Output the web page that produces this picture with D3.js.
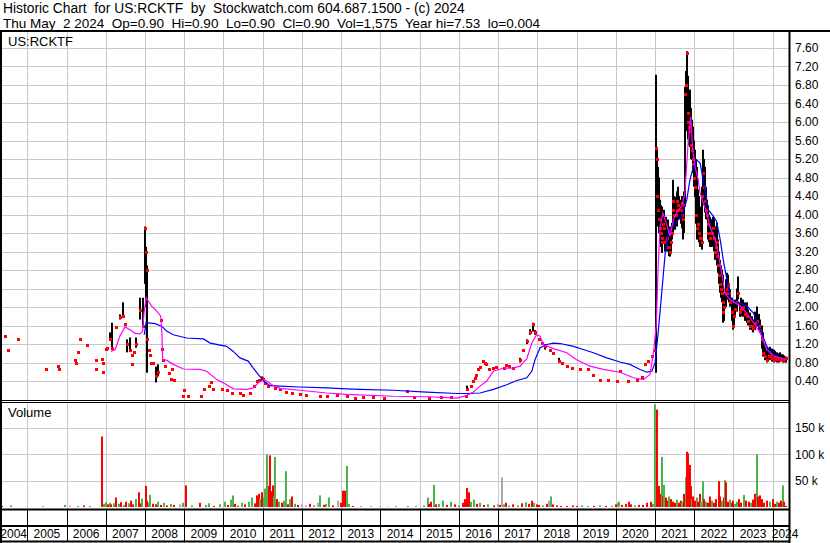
<!DOCTYPE html>
<html>
<head>
<meta charset="utf-8">
<script src="https://cdn.jsdelivr.net/npm/d3@7"></script>
<style>
body{margin:0;background:#fff;}
svg text{font-family:"Liberation Sans", Arial, sans-serif; white-space:pre; fill:#000;}
</style>
</head>
<body>
<div class="c-svg"></div>
<script>
//DATA
//-------------------------------------------------------------------------

const symbol = "US:RCKTF";
const titleLine = "Historic Chart  for US:RCKTF  by  Stockwatch.com 604.687.1500 - (c) 2024";
const quoteLine = "Thu May  2 2024  Op=0.90  Hi=0.90  Lo=0.90  Cl=0.90  Vol=1,575  Year hi=7.53  lo=0.004";

const years = [2004,2005,2006,2007,2008,2009,2010,2011,2012,2013,2014,2015,2016,2017,2018,2019,2020,2021,2022,2023,2024];
const priceTicks = [0.40,0.80,1.20,1.60,2.00,2.40,2.80,3.20,3.60,4.00,4.40,4.80,5.20,5.60,6.00,6.40,6.80,7.20,7.60];
const volumeTicks = [50,100,150];

//price bars : [year, high, low, close]
const bars = [
	[2004.43,1.38,1.38,1.38],[2004.51,1.08,1.08,1.08],[2004.76,1.30,1.30,1.30],
	[2005.47,0.67,0.67,0.67],[2005.79,0.73,0.73,0.73],[2005.81,0.67,0.67,0.67],
	[2006.21,0.85,0.85,0.85],[2006.23,0.78,0.78,0.78],[2006.30,1.02,1.02,1.02],[2006.34,1.30,1.30,1.30],
	[2006.51,1.17,1.17,1.17],[2006.75,0.85,0.85,0.85],[2006.76,0.65,0.65,0.65],[2006.91,0.88,0.88,0.88],
	[2006.92,0.78,0.78,0.78],[2006.93,0.60,0.60,0.60],[2007.00,1.10,1.10,1.10],[2007.02,1.12,1.12,1.12],
	[2007.10,1.45,1.30,1.30],[2007.17,1.66,1.10,1.12],[2007.25,1.56,1.56,1.56],[2007.35,1.84,1.73,1.79],
	[2007.44,2.10,1.79,1.81],[2007.50,1.64,1.64,1.64],[2007.55,1.30,1.02,1.19],[2007.62,1.34,1.04,1.08],
	[2007.66,0.97,0.97,0.97],[2007.68,0.76,0.76,0.76],[2007.72,1.02,1.02,1.02],[2007.78,1.34,1.12,1.20],
	[2007.87,2.20,1.73,1.94],[2007.94,2.20,1.55,1.58],[2008.01,3.74,2.50,3.70],[2008.03,3.30,2.00,3.18],
	[2008.04,2.90,0.95,2.79],[2008.06,1.50,0.58,1.30],[2008.11,1.06,1.06,1.06],[2008.13,0.97,0.97,0.97],
	[2008.15,0.80,0.80,0.80],[2008.20,0.80,0.80,0.80],[2008.27,0.71,0.37,0.50],[2008.34,0.76,0.50,0.60],
	[2008.40,1.71,1.71,1.71],[2008.43,1.10,1.10,1.10],[2008.47,0.86,0.86,0.86],[2008.52,0.73,0.73,0.73],
	[2008.60,0.58,0.58,0.58],[2008.66,0.45,0.45,0.45],[2008.70,0.65,0.65,0.65],[2008.75,0.43,0.43,0.43],
	[2008.96,0.07,0.07,0.07],[2009.00,0.20,0.20,0.20],[2009.10,0.07,0.07,0.07],[2009.42,0.07,0.07,0.07],
	[2009.50,0.22,0.22,0.22],[2009.64,0.30,0.30,0.30],[2009.68,0.37,0.37,0.37],[2009.74,0.22,0.22,0.22],
	[2009.95,0.22,0.22,0.22],[2010.08,0.20,0.20,0.20],[2010.21,0.14,0.14,0.14],[2010.42,0.14,0.14,0.14],
	[2010.50,0.09,0.09,0.09],[2010.67,0.15,0.15,0.15],[2010.79,0.29,0.29,0.29],[2010.86,0.40,0.40,0.40],
	[2010.90,0.43,0.43,0.43],[2010.98,0.50,0.40,0.47],[2011.02,0.45,0.45,0.45],[2011.06,0.36,0.36,0.36],
	[2011.14,0.29,0.29,0.29],[2011.31,0.25,0.25,0.25],[2011.45,0.22,0.22,0.22],[2011.60,0.17,0.17,0.17],
	[2011.75,0.13,0.13,0.13],[2011.95,0.11,0.11,0.11],[2012.10,0.10,0.10,0.10],[2012.45,0.08,0.08,0.08],
	[2012.65,0.07,0.07,0.07],[2012.90,0.09,0.09,0.09],[2013.14,0.08,0.08,0.08],[2013.35,0.04,0.04,0.04],
	[2013.55,0.06,0.06,0.06],[2013.80,0.05,0.05,0.05],[2014.10,0.04,0.04,0.04],[2014.67,0.18,0.18,0.18],
	[2014.85,0.05,0.05,0.05],[2015.25,0.04,0.04,0.04],[2015.55,0.05,0.05,0.05],[2015.80,0.05,0.05,0.05],
	[2016.18,0.07,0.07,0.07],[2016.22,0.30,0.20,0.22],[2016.31,0.30,0.30,0.30],[2016.35,0.40,0.40,0.40],
	[2016.40,0.47,0.47,0.47],[2016.44,0.52,0.52,0.52],[2016.48,0.65,0.65,0.65],[2016.55,0.70,0.70,0.70],
	[2016.62,0.83,0.83,0.83],[2016.66,0.80,0.80,0.80],[2016.70,0.76,0.76,0.76],[2016.78,0.65,0.65,0.65],
	[2016.86,0.68,0.68,0.68],[2016.95,0.70,0.70,0.70],[2017.14,0.68,0.68,0.68],[2017.20,0.75,0.75,0.75],
	[2017.27,0.72,0.72,0.72],[2017.39,0.68,0.68,0.68],[2017.56,0.90,0.80,0.86],[2017.64,1.08,1.08,1.08],
	[2017.73,1.30,1.20,1.26],[2017.81,1.52,1.40,1.47],[2017.88,1.66,1.47,1.64],[2017.94,1.50,1.40,1.47],
	[2018.03,1.30,1.30,1.30],[2018.11,1.22,1.22,1.22],[2018.20,1.20,1.08,1.15],[2018.32,1.08,1.08,1.08],
	[2018.41,1.01,1.01,1.01],[2018.54,0.90,0.80,0.83],[2018.62,0.79,0.79,0.79],[2018.75,0.72,0.72,0.72],
	[2018.88,0.68,0.68,0.68],[2019.10,0.65,0.65,0.65],[2019.28,0.66,0.66,0.66],[2019.43,0.54,0.54,0.54],
	[2019.60,0.43,0.43,0.43],[2019.81,0.42,0.42,0.42],[2020.02,0.40,0.40,0.40],[2020.11,0.61,0.61,0.61],
	[2020.32,0.40,0.40,0.40],[2020.53,0.43,0.43,0.43],[2020.66,0.49,0.49,0.49],[2020.75,0.76,0.76,0.76],
	[2020.83,0.83,0.83,0.83],[2020.92,0.94,0.94,0.94],[2021.00,1.08,1.08,1.08],
	[2021.02,7.02,0.58,5.44],[2021.04,5.40,4.32,5.20],[2021.06,5.10,3.90,4.40],[2021.08,5.03,3.74,4.10],
	[2021.10,4.80,3.60,3.90],[2021.13,4.32,3.46,3.70],[2021.15,4.20,3.30,3.60],[2021.17,4.17,3.17,3.40],
	[2021.19,4.00,3.20,3.50],[2021.21,4.04,3.52,3.80],[2021.24,4.10,3.40,3.70],[2021.26,3.90,3.20,3.40],
	[2021.28,3.95,3.30,3.45],[2021.31,3.80,3.20,3.50],[2021.34,3.89,3.24,3.30],[2021.36,3.70,3.10,3.30],
	[2021.38,3.74,3.09,3.20],[2021.41,3.70,3.20,3.40],[2021.43,3.82,3.46,3.60],[2021.45,4.50,3.60,4.10],
	[2021.47,4.75,3.74,4.30],[2021.49,4.40,3.70,4.00],[2021.51,4.38,3.67,4.00],[2021.53,4.30,3.80,4.00],
	[2021.55,4.25,3.74,4.10],[2021.57,4.50,3.90,4.30],[2021.59,4.60,4.04,4.20],[2021.62,4.40,3.90,4.10],
	[2021.64,4.32,3.95,4.10],[2021.66,4.30,3.80,4.10],[2021.68,4.38,3.89,4.25],[2021.70,4.40,3.70,4.00],
	[2021.72,4.25,3.46,3.90],[2021.74,4.50,3.60,4.20],[2021.77,6.76,4.17,6.60],[2021.79,7.10,5.80,6.80],
	[2021.81,7.53,6.33,7.50],[2021.83,7.00,5.90,6.20],[2021.85,6.85,5.62,6.00],[2021.87,6.50,5.50,5.90],
	[2021.89,6.70,5.46,5.80],[2021.91,6.30,5.20,5.50],[2021.94,6.05,5.18,5.40],[2021.96,5.90,5.00,5.20],
	[2021.98,5.77,4.90,5.10],[2022.00,5.60,4.60,4.80],[2022.02,5.40,4.38,4.60],[2022.04,5.20,3.80,4.00],
	[2022.06,5.03,3.46,3.70],[2022.08,4.60,3.50,3.70],[2022.10,4.54,3.46,3.80],[2022.12,4.40,3.40,3.60],
	[2022.15,4.17,3.30,3.50],[2022.17,4.00,3.30,3.50],[2022.19,3.89,3.24,3.40],[2022.21,4.60,3.50,4.40],
	[2022.23,5.40,4.38,4.90],[2022.25,5.20,4.20,4.60],[2022.27,5.03,4.04,4.30],[2022.29,4.60,3.90,4.10],
	[2022.32,4.32,3.89,4.00],[2022.34,4.20,3.60,3.80],[2022.36,4.17,3.46,3.60],[2022.38,4.00,3.40,3.60],
	[2022.40,3.95,3.30,3.50],[2022.44,3.90,3.30,3.60],[2022.49,3.95,3.46,3.70],[2022.51,3.90,3.20,3.50],
	[2022.53,3.74,3.02,3.20],[2022.55,3.70,3.10,3.30],[2022.57,3.82,3.17,3.40],[2022.59,3.60,2.90,3.10],
	[2022.61,3.46,2.74,2.90],[2022.63,3.20,2.50,2.70],[2022.66,3.02,2.31,2.50],[2022.68,2.90,2.20,2.40],
	[2022.70,2.81,2.10,2.30],[2022.72,2.70,1.80,2.10],[2022.74,2.59,1.66,1.90],[2022.77,2.30,1.70,2.00],
	[2022.80,2.60,2.00,2.30],[2022.83,2.74,2.16,2.40],[2022.85,2.70,2.20,2.50],[2022.87,2.59,2.31,2.45],
	[2022.89,2.50,2.10,2.30],[2022.91,2.38,2.01,2.10],[2022.95,2.20,1.70,1.90],[2023.00,2.01,1.51,1.60],
	[2023.02,2.10,1.60,1.80],[2023.04,2.16,1.79,1.95],[2023.08,2.40,1.90,2.10],[2023.12,2.66,2.16,2.30],
	[2023.16,2.10,1.79,1.90],[2023.20,2.20,1.80,1.95],[2023.25,2.16,1.79,2.00],[2023.30,2.10,1.70,1.85],
	[2023.34,2.10,1.66,1.80],[2023.38,1.95,1.60,1.70],[2023.42,1.88,1.51,1.60],[2023.46,1.80,1.50,1.60],
	[2023.51,1.73,1.45,1.55],[2023.55,1.90,1.50,1.65],[2023.59,2.01,1.58,1.70],[2023.64,1.85,1.50,1.60],
	[2023.68,1.73,1.45,1.50],[2023.72,1.60,1.10,1.30],[2023.76,1.45,0.93,1.00],[2023.80,1.20,0.85,0.95],
	[2023.85,1.14,0.80,0.85],[2023.90,1.10,0.85,0.95],[2023.94,1.14,0.86,0.95],[2023.98,1.10,0.82,0.90],
	[2024.02,1.08,0.80,0.85],[2024.06,1.05,0.82,0.90],[2024.11,1.02,0.80,0.88],[2024.15,1.00,0.80,0.88],
	[2024.19,1.02,0.82,0.90],[2024.23,0.98,0.82,0.88],[2024.27,0.97,0.80,0.85],[2024.30,0.95,0.80,0.88],
	[2024.33,0.93,0.80,0.90]
];

//short moving average (magenta) : [year, value]
const maShort = [
	[2007.13,1.04],[2007.24,1.08],[2007.36,1.37],[2007.49,1.57],[2007.62,1.51],[2007.75,1.43],[2007.87,1.42],
	[2007.94,1.48],[2007.97,1.84],[2008.03,2.20],[2008.17,2.02],[2008.30,1.91],[2008.40,1.80],[2008.43,1.45],
	[2008.45,0.86],[2008.55,0.85],[2008.72,0.76],[2008.98,0.66],[2009.40,0.65],[2009.57,0.61],[2009.83,0.43],
	[2010.00,0.36],[2010.25,0.23],[2010.59,0.22],[2010.76,0.25],[2010.89,0.36],[2011.02,0.43],[2011.10,0.40],
	[2011.27,0.30],[2011.44,0.24],[2011.95,0.20],[2012.63,0.14],[2013.14,0.11],[2014.33,0.07],[2015.18,0.06],
	[2015.95,0.03],[2016.20,0.09],[2016.37,0.16],[2016.54,0.29],[2016.71,0.40],[2016.88,0.61],[2017.14,0.68],
	[2017.39,0.68],[2017.56,0.72],[2017.73,0.88],[2017.86,1.22],[2017.98,1.40],[2018.07,1.37],[2018.15,1.19],
	[2018.41,1.10],[2018.75,1.01],[2019.00,0.86],[2019.34,0.72],[2019.68,0.65],[2020.11,0.59],[2020.45,0.47],
	[2020.70,0.43],[2020.87,0.54],[2020.96,1.01],[2021.03,1.58],[2021.08,2.88],[2021.13,3.74],[2021.20,4.03],
	[2021.30,3.78],[2021.38,3.53],[2021.47,3.89],[2021.59,4.10],[2021.68,4.17],[2021.76,4.46],[2021.85,5.62],
	[2021.91,6.12],[2021.96,5.40],[2022.02,5.04],[2022.10,4.75],[2022.15,4.46],[2022.23,4.25],[2022.32,4.03],
	[2022.40,3.74],[2022.53,3.46],[2022.61,3.17],[2022.70,2.74],[2022.78,2.30],[2022.91,2.16],[2023.04,2.09],
	[2023.17,2.02],[2023.34,1.87],[2023.51,1.66],[2023.68,1.44],[2023.85,1.08],[2024.02,0.94],[2024.19,0.90],
	[2024.33,0.86]
];

//long moving average (blue) : [year, value]
const maLong = [
	[2007.98,1.40],[2008.03,1.66],[2008.26,1.64],[2008.43,1.58],[2008.55,1.48],[2008.72,1.40],[2009.06,1.33],
	[2009.49,1.31],[2009.66,1.22],[2010.08,1.15],[2010.25,1.04],[2010.42,0.90],[2010.63,0.83],[2010.76,0.68],
	[2010.89,0.54],[2011.02,0.40],[2011.19,0.30],[2011.44,0.29],[2011.95,0.27],[2012.63,0.25],[2013.14,0.23],
	[2013.48,0.22],[2014.33,0.20],[2015.18,0.16],[2015.95,0.13],[2016.20,0.13],[2016.54,0.14],[2016.88,0.22],
	[2017.22,0.32],[2017.48,0.41],[2017.73,0.47],[2017.86,0.61],[2017.94,0.86],[2018.07,1.12],[2018.24,1.19],
	[2018.41,1.22],[2018.58,1.21],[2018.92,1.15],[2019.17,1.08],[2019.43,1.01],[2019.77,0.90],[2020.11,0.81],
	[2020.36,0.76],[2020.62,0.65],[2020.79,0.59],[2020.92,0.61],[2021.00,0.79],[2021.08,1.44],[2021.17,2.30],
	[2021.26,3.17],[2021.34,3.60],[2021.43,3.74],[2021.55,3.85],[2021.68,3.96],[2021.81,4.32],[2021.89,4.75],
	[2021.98,5.04],[2022.06,5.18],[2022.15,5.11],[2022.27,4.54],[2022.36,4.10],[2022.49,3.96],[2022.57,3.85],
	[2022.66,3.46],[2022.74,3.02],[2022.83,2.59],[2022.91,2.23],[2023.04,2.09],[2023.16,2.09],[2023.34,2.02],
	[2023.51,1.87],[2023.68,1.51],[2023.85,1.15],[2024.02,0.97],[2024.19,0.90],[2024.33,0.86]
];

//volume : [year, thousands of shares, direction u=up d=down n=unchanged]
const volumes = [
	[2004.32,3,"u"],[2004.36,2,"d"],[2004.58,3,"u"],[2005.40,1,"d"],[2005.95,4,"u"],[2006.10,1,"d"],[2006.30,2,"u"],
	[2006.45,3,"d"],[2006.60,2,"u"],[2006.91,134,"d"],[2006.95,6,"u"],[2007.00,9,"u"],[2007.05,5,"d"],[2007.10,8,"u"],
	[2007.13,5,"d"],[2007.20,7,"u"],[2007.27,18,"d"],[2007.33,6,"u"],[2007.40,9,"d"],[2007.47,4,"u"],[2007.52,10,"d"],
	[2007.58,7,"u"],[2007.65,12,"d"],[2007.70,5,"d"],[2007.76,15,"u"],[2007.84,28,"d"],[2007.88,7,"d"],[2007.92,16,"u"],
	[2008.02,40,"d"],[2008.06,12,"d"],[2008.10,8,"u"],[2008.14,23,"u"],[2008.20,6,"d"],[2008.27,5,"d"],[2008.33,10,"u"],
	[2008.40,4,"d"],[2008.48,8,"u"],[2008.56,3,"d"],[2008.65,6,"u"],[2008.75,4,"d"],[2008.90,5,"n"],[2008.96,8,"u"],
	[2009.05,41,"d"],[2009.20,3,"u"],[2009.40,8,"d"],[2009.55,4,"u"],[2009.62,7,"u"],[2009.75,2,"d"],[2009.90,5,"u"],
	[2010.04,10,"u"],[2010.12,4,"d"],[2010.20,14,"u"],[2010.24,22,"u"],[2010.30,6,"d"],[2010.38,3,"u"],[2010.46,8,"u"],
	[2010.55,5,"d"],[2010.65,10,"u"],[2010.73,18,"u"],[2010.80,7,"d"],[2010.85,22,"d"],[2010.90,25,"d"],[2010.94,15,"u"],
	[2010.98,28,"d"],[2011.03,18,"u"],[2011.07,35,"u"],[2011.12,100,"u"],[2011.15,40,"d"],[2011.19,98,"d"],[2011.22,30,"d"],
	[2011.25,41,"d"],[2011.29,20,"u"],[2011.32,95,"u"],[2011.36,15,"d"],[2011.42,10,"u"],[2011.48,8,"d"],[2011.54,12,"u"],
	[2011.59,68,"u"],[2011.64,5,"d"],[2011.70,15,"u"],[2011.75,20,"d"],[2011.82,6,"u"],[2011.90,4,"d"],[2012.00,5,"n"],
	[2012.10,3,"n"],[2012.20,6,"d"],[2012.30,4,"n"],[2012.40,8,"n"],[2012.47,22,"u"],[2012.55,4,"d"],[2012.62,6,"u"],
	[2012.70,18,"u"],[2012.80,3,"d"],[2012.91,12,"n"],[2013.00,8,"d"],[2013.05,31,"d"],[2013.09,31,"d"],[2013.14,78,"u"],
	[2013.20,6,"u"],[2013.30,2,"d"],[2013.50,1,"d"],[2013.75,2,"n"],[2014.00,1,"n"],[2014.20,1,"n"],[2014.40,2,"n"],
	[2014.70,2,"u"],[2014.90,1,"d"],[2015.10,3,"u"],[2015.21,18,"u"],[2015.25,6,"d"],[2015.30,10,"d"],[2015.37,42,"u"],
	[2015.42,5,"d"],[2015.50,6,"u"],[2015.60,12,"u"],[2015.70,4,"d"],[2015.80,10,"u"],[2015.90,5,"d"],[2016.00,3,"u"],
	[2016.10,8,"d"],[2016.15,15,"d"],[2016.21,36,"d"],[2016.27,28,"d"],[2016.32,10,"u"],[2016.38,14,"u"],[2016.45,6,"d"],
	[2016.55,8,"u"],[2016.65,4,"d"],[2016.75,5,"u"],[2016.90,3,"d"],[2017.00,6,"n"],[2017.05,4,"d"],[2017.10,56,"n"],
	[2017.14,5,"u"],[2017.20,8,"d"],[2017.28,3,"u"],[2017.38,5,"d"],[2017.50,3,"u"],[2017.60,7,"d"],[2017.70,9,"u"],
	[2017.78,6,"d"],[2017.86,12,"d"],[2017.92,8,"u"],[2017.98,5,"d"],[2018.05,4,"d"],[2018.15,3,"u"],[2018.25,6,"d"],
	[2018.30,12,"n"],[2018.34,20,"u"],[2018.40,5,"d"],[2018.50,3,"d"],[2018.60,2,"d"],[2018.75,2,"d"],[2018.90,3,"d"],
	[2019.00,2,"d"],[2019.15,3,"u"],[2019.30,2,"u"],[2019.45,2,"d"],[2019.60,3,"u"],[2019.75,2,"d"],[2019.90,2,"u"],
	[2020.00,5,"d"],[2020.05,8,"u"],[2020.09,10,"u"],[2020.15,4,"d"],[2020.25,6,"d"],[2020.34,10,"d"],[2020.40,5,"d"],
	[2020.50,3,"u"],[2020.60,4,"d"],[2020.70,4,"d"],[2020.80,8,"d"],[2020.90,10,"d"],[2020.95,6,"u"],[2021.01,195,"u"],
	[2021.04,185,"d"],[2021.07,20,"d"],[2021.10,40,"d"],[2021.14,25,"d"],[2021.17,95,"u"],[2021.20,20,"d"],[2021.24,42,"u"],
	[2021.28,18,"d"],[2021.32,12,"d"],[2021.36,20,"u"],[2021.40,15,"d"],[2021.45,10,"d"],[2021.50,8,"d"],[2021.55,14,"u"],
	[2021.60,8,"d"],[2021.65,12,"d"],[2021.70,10,"u"],[2021.75,25,"d"],[2021.78,57,"u"],[2021.81,105,"d"],[2021.83,90,"d"],
	[2021.85,102,"d"],[2021.88,80,"d"],[2021.91,40,"d"],[2021.94,15,"u"],[2021.98,20,"d"],[2022.02,12,"d"],[2022.06,18,"u"],
	[2022.10,10,"d"],[2022.15,25,"d"],[2022.18,10,"u"],[2022.22,49,"u"],[2022.26,15,"d"],[2022.30,10,"u"],[2022.34,8,"d"],
	[2022.40,20,"d"],[2022.45,12,"u"],[2022.50,8,"d"],[2022.55,15,"d"],[2022.62,49,"d"],[2022.66,20,"d"],[2022.70,12,"u"],
	[2022.75,18,"d"],[2022.79,51,"u"],[2022.82,47,"d"],[2022.86,10,"d"],[2022.90,14,"u"],[2022.95,8,"d"],[2023.00,12,"d"],
	[2023.05,6,"u"],[2023.10,10,"u"],[2023.15,15,"d"],[2023.20,8,"d"],[2023.26,23,"u"],[2023.32,12,"d"],[2023.40,10,"d"],
	[2023.45,8,"u"],[2023.50,14,"d"],[2023.55,25,"d"],[2023.60,100,"u"],[2023.63,20,"d"],[2023.67,22,"d"],[2023.72,15,"d"],
	[2023.78,8,"d"],[2023.85,12,"d"],[2023.92,10,"u"],[2024.00,15,"d"],[2024.05,6,"d"],[2024.10,10,"u"],[2024.15,8,"d"],
	[2024.20,12,"d"],[2024.25,41,"u"],[2024.29,10,"d"],[2024.33,2,"d"]
];


//INITIALISATION
//-------------------------------------------------------------------------

const opts = {
	width: 830,
	height: 543,
	plotLeft: 2,
	plotRight: 789,
	priceTop: 32,
	priceBottom: 400,
	volumeTop: 403,
	volumeBottom: 509,
	axisMid: 526,
	axisBottom: 542
};

const colors = {
	grid: "#c8c8c8",
	up: "#4cb34c",
	down: "#ff0000",
	flat: "#a8a8a8",
	short: "#ff00ff",
	long: "#0000ff"
};

const svg = d3.select(".c-svg")
	.append("svg")
	.attr("width", opts.width)
	.attr("height", opts.height)
	.style("display", "block");

//scales
const x = d3.scaleLinear()
	.domain([2004.304, 2024.415])
	.range([0, opts.plotRight]);

const y = d3.scaleLinear()
	.domain([0, 7.6])
	.range([399.5, 48]);

const yVol = d3.scaleLinear()
	.domain([0, 150])
	.range([507, 428]);

const fmtPrice = d3.format(".2f");

//clip paths
const defs = svg.append("defs");
defs.append("clipPath").attr("id", "clip-price")
	.append("rect")
	.attr("x", opts.plotLeft).attr("y", opts.priceTop)
	.attr("width", opts.plotRight - opts.plotLeft).attr("height", opts.priceBottom - opts.priceTop);
defs.append("clipPath").attr("id", "clip-vol")
	.append("rect")
	.attr("x", opts.plotLeft).attr("y", opts.volumeTop)
	.attr("width", opts.plotRight - opts.plotLeft).attr("height", opts.volumeBottom - opts.volumeTop);


//HEADER
//-------------------------------------------------------------------------

svg.append("text")
	.attr("x", 3).attr("y", 13)
	.style("font-size", "13.8px")
	.text(titleLine);

svg.append("text")
	.attr("x", 3).attr("y", 28)
	.style("font-size", "13.5px")
	.text(quoteLine);


//PRICE PANEL
//-------------------------------------------------------------------------

const price = svg.append("g")
	.attr("class", "price")
	.attr("clip-path", "url(#clip-price)");

//grid
price.append("g")
	.selectAll("line")
	.data(years.slice(1))
	.join("line")
	.attr("x1", d => Math.round(x(d)) + 0.5)
	.attr("x2", d => Math.round(x(d)) + 0.5)
	.attr("y1", opts.priceTop)
	.attr("y2", opts.priceBottom)
	.attr("stroke", colors.grid);

price.append("g")
	.selectAll("line")
	.data(priceTicks)
	.join("line")
	.attr("x1", opts.plotLeft)
	.attr("x2", opts.plotRight)
	.attr("y1", d => Math.round(y(d)) + 0.5)
	.attr("y2", d => Math.round(y(d)) + 0.5)
	.attr("stroke", colors.grid);

//high-low bars
price.append("g")
	.selectAll("rect")
	.data(bars.filter(d => d[1] > d[2]))
	.join("rect")
	.attr("x", d => Math.round(x(d[0])) - 1)
	.attr("y", d => y(d[1]))
	.attr("width", 2)
	.attr("height", d => Math.max(1, y(d[2]) - y(d[1])))
	.attr("fill", "#000");

//closes
price.append("g")
	.selectAll("rect")
	.data(bars)
	.join("rect")
	.attr("x", d => Math.round(x(d[0])) - 1)
	.attr("y", d => Math.round(y(d[3])) - 1)
	.attr("width", 3)
	.attr("height", 3)
	.attr("fill", colors.down);

//moving averages
const line = d3.line()
	.x(d => x(d[0]))
	.y(d => y(d[1]));

price.append("path")
	.datum(maLong)
	.attr("d", line)
	.attr("fill", "none")
	.attr("stroke", colors.long)
	.attr("stroke-width", 1.2);

price.append("path")
	.datum(maShort)
	.attr("d", line)
	.attr("fill", "none")
	.attr("stroke", colors.short)
	.attr("stroke-width", 1.2);

svg.append("text")
	.attr("x", 8).attr("y", 46)
	.style("font-size", "13px")
	.text(symbol);

//price labels
svg.append("g")
	.selectAll("text")
	.data(priceTicks)
	.join("text")
	.attr("x", 795)
	.attr("y", d => y(d))
	.attr("dy", "0.36em")
	.style("font-size", "12px")
	.text(d => fmtPrice(d));


//VOLUME PANEL
//-------------------------------------------------------------------------

const vol = svg.append("g")
	.attr("class", "volume")
	.attr("clip-path", "url(#clip-vol)");

vol.append("g")
	.selectAll("line")
	.data(years.slice(1))
	.join("line")
	.attr("x1", d => Math.round(x(d)) + 0.5)
	.attr("x2", d => Math.round(x(d)) + 0.5)
	.attr("y1", opts.volumeTop)
	.attr("y2", opts.volumeBottom)
	.attr("stroke", colors.grid);

vol.append("g")
	.selectAll("line")
	.data(volumeTicks)
	.join("line")
	.attr("x1", opts.plotLeft)
	.attr("x2", opts.plotRight)
	.attr("y1", d => Math.round(yVol(d)) + 0.5)
	.attr("y2", d => Math.round(yVol(d)) + 0.5)
	.attr("stroke", colors.grid);

vol.append("g")
	.selectAll("rect")
	.data(volumes)
	.join("rect")
	.attr("x", d => Math.round(x(d[0])) - 1)
	.attr("y", d => yVol(d[1]))
	.attr("width", 2)
	.attr("height", d => yVol(0) - yVol(d[1]))
	.attr("fill", d => d[2] === "u" ? colors.up : (d[2] === "d" ? colors.down : colors.flat));

svg.append("text")
	.attr("x", 8).attr("y", 417)
	.style("font-size", "13px")
	.text("Volume");

svg.append("g")
	.selectAll("text")
	.data(volumeTicks)
	.join("text")
	.attr("x", 795)
	.attr("y", d => yVol(d))
	.attr("dy", "0.36em")
	.style("font-size", "12px")
	.text(d => d + " k");


//TIME AXIS
//-------------------------------------------------------------------------

const axis = svg.append("g").attr("class", "time-axis");

axis.append("g")
	.selectAll("line")
	.data(years.slice(1))
	.join("line")
	.attr("x1", d => Math.round(x(d)) + 0.5)
	.attr("x2", d => Math.round(x(d)) + 0.5)
	.attr("y1", opts.volumeBottom)
	.attr("y2", opts.axisBottom)
	.attr("stroke", "#000");

//year labels centred in their cell, the last one starts at its cell edge
const [t0, t1] = x.domain();
axis.append("g")
	.selectAll("text")
	.data(years)
	.join("text")
	.attr("x", d => d === t1 - (t1 % 1) ? x(d) - 1 : (x(Math.max(d, t0)) + x(Math.min(d + 1, t1))) / 2)
	.attr("y", 538)
	.attr("text-anchor", d => d === t1 - (t1 % 1) ? "start" : "middle")
	.style("font-size", "12px")
	.text(d => d);


//FRAME
//-------------------------------------------------------------------------

const frame = svg.append("g").attr("class", "frame");

const hLine = (y0, x0, x1, w) => frame.append("line")
	.attr("x1", x0).attr("x2", x1).attr("y1", y0).attr("y2", y0)
	.attr("stroke", "#000").attr("stroke-width", w);
const vLine = (x0, y0, y1, w) => frame.append("line")
	.attr("x1", x0).attr("x2", x0).attr("y1", y0).attr("y2", y1)
	.attr("stroke", "#000").attr("stroke-width", w);

hLine(31, 0, opts.width, 2);
vLine(1, 30, opts.height, 2);
vLine(789.5, 30, 543, 2);
hLine(400.5, 0, 790, 1);
hLine(402.5, 0, 790, 1);
hLine(509.5, 0, 790, 2);
hLine(526, 0, 790, 2);
hLine(541.5, 0, 790, 2);

</script>
</body>
</html>
